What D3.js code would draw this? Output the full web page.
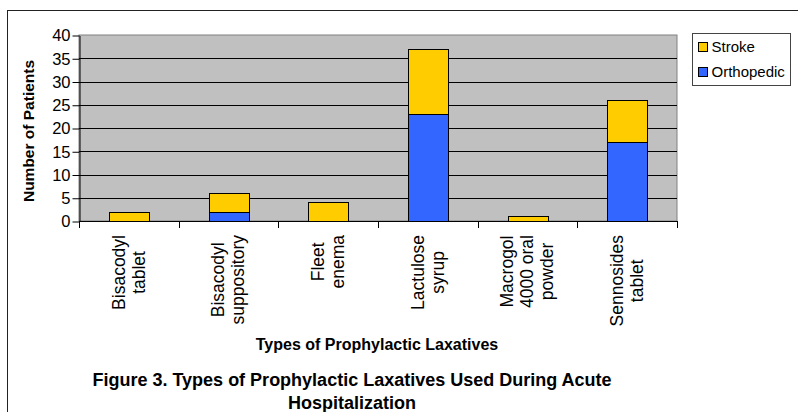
<!DOCTYPE html>
<html lang="en">
<head>
<meta charset="UTF-8">
<title>Types of Prophylactic Laxatives</title>
<script src="https://d3js.org/d3.v7.min.js"></script>
<style>
    body { margin: 0; background: #fff; }
    text { font-family: "Liberation Sans", Arial, sans-serif; fill: #000; }
</style>
</head>
<body>
<script>
    // data
    const categories = ["Bisacodyl tablet", "Bisacodyl suppository", "Fleet enema",
                        "Lactulose syrup", "Macrogol 4000 oral powder", "Sennosides tablet"];
    const labelLines = [["Bisacodyl", "tablet"], ["Bisacodyl", "suppository"], ["Fleet", "enema"],
                        ["Lactulose", "syrup"], ["Macrogol", "4000 oral", "powder"], ["Sennosides", "tablet"]];
    const orthopedic = [0, 2, 0, 23, 0, 17];
    const stroke = [2, 4, 4, 14, 1, 9];
    const seriesNames = ["Stroke", "Orthopedic"];
    const yTicks = [0, 5, 10, 15, 20, 25, 30, 35, 40];

    const width = 798, height = 412;
    const plot = { left: 79, right: 677, top: 35, bottom: 221 };
    const colors = { Stroke: "#FFCC00", Orthopedic: "#3366FF" };

    const svg = d3.select("body").append("svg")
        .attr("width", width)
        .attr("height", height);

    // outer chart frame (runs off the right and bottom edges)
    svg.append("rect")
        .attr("x", 7.5).attr("y", 10.5)
        .attr("width", 820).attr("height", 420)
        .attr("fill", "none")
        .attr("stroke", "#222");

    const x = d3.scaleBand()
        .domain(categories)
        .range([plot.left, plot.right]);

    const y = d3.scaleLinear()
        .domain([0, 40])
        .range([plot.bottom, plot.top]);

    // plot background
    svg.append("rect")
        .attr("x", plot.left).attr("y", plot.top)
        .attr("width", plot.right - plot.left).attr("height", plot.bottom - plot.top)
        .attr("fill", "#C0C0C0")
        .attr("stroke", "#808080");

    // gridlines
    svg.append("g")
        .selectAll("line")
        .data(yTicks.filter(d => d > 0 && d < 40))
        .join("line")
        .attr("x1", plot.left).attr("x2", plot.right)
        .attr("y1", d => Math.round(y(d)) + 0.5)
        .attr("y2", d => Math.round(y(d)) + 0.5)
        .attr("stroke", "#000");

    // stacked bars: orthopedic at the bottom, stroke on top
    const rows = categories.map((c, i) => ({ cat: c, Orthopedic: orthopedic[i], Stroke: stroke[i] }));
    const stacked = d3.stack().keys(["Orthopedic", "Stroke"])(rows);
    const barW = x.bandwidth() * 0.4;

    svg.append("g")
        .selectAll("g")
        .data(stacked)
        .join("g")
        .attr("fill", s => colors[s.key])
        .selectAll("rect")
        .data(s => s.filter(d => d[1] - d[0] > 0))
        .join("rect")
        .attr("x", d => Math.round(x(d.data.cat) + (x.bandwidth() - barW) / 2) + 0.5)
        .attr("y", d => Math.round(y(d[1])) + 0.5)
        .attr("width", Math.round(barW))
        .attr("height", d => Math.round(y(d[0])) - Math.round(y(d[1])))
        .attr("stroke", "#000");

    // y axis
    const yAxis = svg.append("g")
        .attr("transform", `translate(${plot.left + 0.5},0.5)`)
        .call(d3.axisLeft(y).tickValues(yTicks).tickSize(7).tickPadding(2).tickSizeOuter(0));
    yAxis.select(".domain").attr("stroke", "#000");
    yAxis.selectAll(".tick line").attr("stroke", "#000");
    yAxis.selectAll(".tick text")
        .style("font-size", "16.5px")
        .style("font-family", "'Liberation Sans', Arial, sans-serif")
        .attr("fill", "#000");

    // x axis (ticks at the category boundaries)
    const bounds = categories.map(c => x(c)).concat([plot.right]);
    svg.append("line")
        .attr("x1", plot.left).attr("x2", plot.right)
        .attr("y1", plot.bottom + 0.5).attr("y2", plot.bottom + 0.5)
        .attr("stroke", "#000");
    svg.append("g")
        .selectAll("line")
        .data(bounds)
        .join("line")
        .attr("x1", d => Math.round(d) + 0.5).attr("x2", d => Math.round(d) + 0.5)
        .attr("y1", plot.bottom).attr("y2", plot.bottom + 7)
        .attr("stroke", "#000");

    // rotated multi-line category labels
    const fs = 17.5, lineH = 20;
    const labels = svg.append("g")
        .selectAll("g")
        .data(categories)
        .join("g")
        .attr("transform", c => `translate(${x(c) + x.bandwidth() / 2},235) rotate(-90)`);

    labels.each(function (c, i) {
        const g = d3.select(this);
        const lines = labelLines[i];
        const texts = g.selectAll("text")
            .data(lines)
            .join("text")
            .style("font-size", fs + "px")
            .attr("text-anchor", "middle")
            .attr("y", (d, j) => (j - (lines.length - 1) / 2) * lineH + 0.33 * fs)
            .text(d => d);
        let maxLen = 0;
        texts.each(function () { maxLen = Math.max(maxLen, this.getComputedTextLength()); });
        texts.attr("x", -maxLen / 2);
    });

    // axis titles
    svg.append("text")
        .attr("transform", `translate(34,${(plot.top + plot.bottom) / 2 + 3}) rotate(-90)`)
        .attr("text-anchor", "middle")
        .style("font-size", "15.5px")
        .style("font-weight", "bold")
        .text("Number of Patients");

    svg.append("text")
        .attr("x", 377).attr("y", 350)
        .attr("text-anchor", "middle")
        .style("font-size", "16px")
        .style("font-weight", "bold")
        .text("Types of Prophylactic Laxatives");

    // legend
    const legend = svg.append("g").attr("transform", "translate(692.5,33.5)");
    legend.append("rect")
        .attr("width", 98).attr("height", 52)
        .attr("fill", "#fff")
        .attr("stroke", "#444");
    const item = legend.selectAll(".item")
        .data(seriesNames)
        .join("g")
        .attr("class", "item")
        .attr("transform", (d, i) => `translate(6,${9 + i * 25})`);
    item.append("rect")
        .attr("width", 9).attr("height", 9)
        .attr("fill", d => colors[d])
        .attr("stroke", "#000");
    item.append("text")
        .attr("x", 13).attr("y", 9.5)
        .style("font-size", "15px")
        .text(d => d);

    // figure caption below the chart
    const caption = svg.append("text")
        .attr("text-anchor", "middle")
        .style("font-size", "18px")
        .style("font-weight", "bold");
    caption.append("tspan").attr("x", 352).attr("y", 386)
        .text("Figure 3. Types of Prophylactic Laxatives Used During Acute");
    caption.append("tspan").attr("x", 352).attr("y", 409)
        .text("Hospitalization");
</script>
</body>
</html>
